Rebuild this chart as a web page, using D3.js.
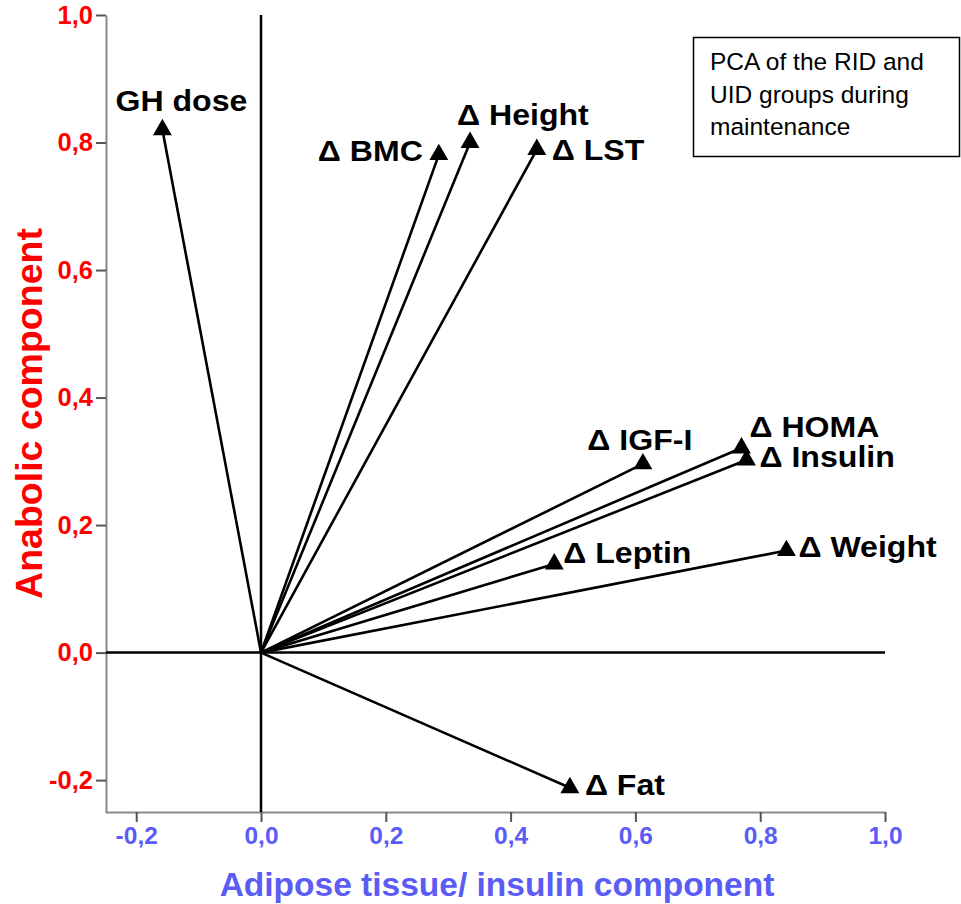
<!DOCTYPE html>
<html>
<head>
<meta charset="utf-8">
<script src="https://cdn.jsdelivr.net/npm/d3@7"></script>
<style>
  html, body { margin: 0; padding: 0; background: #fff; }
  svg { display: block; font-family: "Liberation Sans", Arial, sans-serif; }
</style>
</head>
<body>
<svg id="chart" width="961" height="904"></svg>
<script>
// ---- data ----
const variables = ["GH dose", "Δ BMC", "Δ Height", "Δ LST", "Δ IGF-I", "Δ HOMA", "Δ Insulin", "Δ Leptin", "Δ Weight", "Δ Fat"];
const adiposeLoadings  = [-0.158, 0.285, 0.335, 0.442, 0.612, 0.770, 0.778, 0.470, 0.842, 0.495];
const anabolicLoadings = [ 0.820, 0.781, 0.800, 0.789, 0.296, 0.321, 0.302, 0.139, 0.160, -0.212];
const xTicks = [-0.2, 0.0, 0.2, 0.4, 0.6, 0.8, 1.0];
const yTicks = [-0.2, 0.0, 0.2, 0.4, 0.6, 0.8, 1.0];
const xTitle = "Adipose tissue/ insulin component";
const yTitle = "Anabolic component";
const noteLines = ["PCA of the RID and", "UID groups during", "maintenance"];

// ---- label placement (layout only) ----
const labelLayout = {
  "GH dose":   {anchor: "middle", dx: 19,  dy: -19},
  "Δ BMC":     {anchor: "end",    dx: -16, dy: 6},
  "Δ Height":  {anchor: "start",  dx: -13, dy: -18},
  "Δ LST":     {anchor: "start",  dx: 15,  dy: 10},
  "Δ IGF-I":   {anchor: "middle", dx: -3,  dy: -14},
  "Δ HOMA":    {anchor: "start",  dx: 8,   dy: -11},
  "Δ Insulin": {anchor: "start",  dx: 13,  dy: 7},
  "Δ Leptin":  {anchor: "start",  dx: 9,   dy: -1},
  "Δ Weight":  {anchor: "start",  dx: 12,  dy: 6},
  "Δ Fat":     {anchor: "start",  dx: 15,  dy: 7}
};

const points = variables.map((name, i) => ({name, x: adiposeLoadings[i], y: anabolicLoadings[i]}));

const svg = d3.select("#chart");
const x = d3.scaleLinear().domain([-0.25, 1.0]).range([105, 885]);
const y = d3.scaleLinear().domain([-0.25, 1.0]).range([812, 15]);

const loc = d3.formatLocale({decimal: ",", thousands: ".", grouping: [3], currency: ["", ""], minus: "-"});
const fmt = loc.format(".1f");

const red = "#ff0000";
const blue = "#5b5bf6";

// y axis
const yAxis = svg.append("g")
  .attr("transform", `translate(${x.range()[0] + 1},0)`)
  .call(d3.axisLeft(y).tickValues(yTicks).tickFormat(fmt).tickSize(10).tickSizeOuter(0).tickPadding(3));
yAxis.select(".domain").attr("stroke", "#8a8a8a").attr("stroke-width", 2);
yAxis.selectAll(".tick line").attr("stroke", "#555").attr("stroke-width", 2);
yAxis.selectAll(".tick text")
  .attr("fill", red).attr("font-size", 25.5).attr("font-weight", "bold")
  .attr("font-family", "Liberation Sans, Arial, sans-serif");

// x axis
const xAxis = svg.append("g")
  .attr("transform", `translate(0,${y.range()[0]})`)
  .call(d3.axisBottom(x).tickValues(xTicks).tickFormat(fmt).tickSize(10).tickSizeOuter(0).tickPadding(5));
xAxis.select(".domain").attr("stroke", "#8a8a8a").attr("stroke-width", 2);
xAxis.selectAll(".tick line").attr("stroke", "#555").attr("stroke-width", 2);
xAxis.selectAll(".tick text")
  .attr("fill", blue).attr("font-size", 24.5).attr("font-weight", "bold")
  .attr("font-family", "Liberation Sans, Arial, sans-serif");

// zero lines
svg.append("line")
  .attr("x1", x(0)).attr("x2", x(0)).attr("y1", y(1.0)).attr("y2", y(-0.25))
  .attr("stroke", "#000").attr("stroke-width", 2.5);
svg.append("line")
  .attr("x1", x(-0.25) + 1).attr("x2", x(1.0)).attr("y1", y(0)).attr("y2", y(0))
  .attr("stroke", "#000").attr("stroke-width", 2.5);

// vectors
svg.append("g").selectAll("line").data(points).join("line")
  .attr("x1", x(0)).attr("y1", y(0))
  .attr("x2", d => x(d.x)).attr("y2", d => y(d.y))
  .attr("stroke", "#000").attr("stroke-width", 2.6);

// triangles
const tri = d3.symbol().type(d3.symbolTriangle).size(155);
svg.append("g").selectAll("path").data(points).join("path")
  .attr("d", tri)
  .attr("transform", d => `translate(${x(d.x)},${y(d.y)})`)
  .attr("fill", "#000");

// labels (slightly widened glyphs as in the reference)
svg.append("g").selectAll("text").data(points).join("text")
  .attr("transform", d => `translate(${x(d.x) + labelLayout[d.name].dx},${y(d.y) + labelLayout[d.name].dy}) scale(1.07,1)`)
  .attr("text-anchor", d => labelLayout[d.name].anchor)
  .attr("font-size", 30).attr("font-weight", "bold").attr("fill", "#000")
  .text(d => d.name);

// axis titles
svg.append("text")
  .attr("x", (x(-0.25) + x(1.0)) / 2 + 2).attr("y", 896)
  .attr("text-anchor", "middle")
  .attr("font-size", 33.5).attr("font-weight", "bold").attr("fill", blue)
  .text(xTitle);
svg.append("text")
  .attr("transform", `translate(42,${(y(-0.25) + y(1.0)) / 2})rotate(-90)`)
  .attr("text-anchor", "middle")
  .attr("font-size", 37.5).attr("font-weight", "bold").attr("fill", red)
  .text(yTitle);

// note box
svg.append("rect")
  .attr("x", 693.5).attr("y", 37.5).attr("width", 266).attr("height", 119)
  .attr("fill", "#fff").attr("stroke", "#000").attr("stroke-width", 1.5);
svg.append("text")
  .attr("font-size", 24.5).attr("fill", "#000")
  .selectAll("tspan").data(noteLines).join("tspan")
  .attr("x", 710).attr("y", (d, i) => 70 + i * 32.5)
  .text(d => d);
</script>
</body>
</html>
